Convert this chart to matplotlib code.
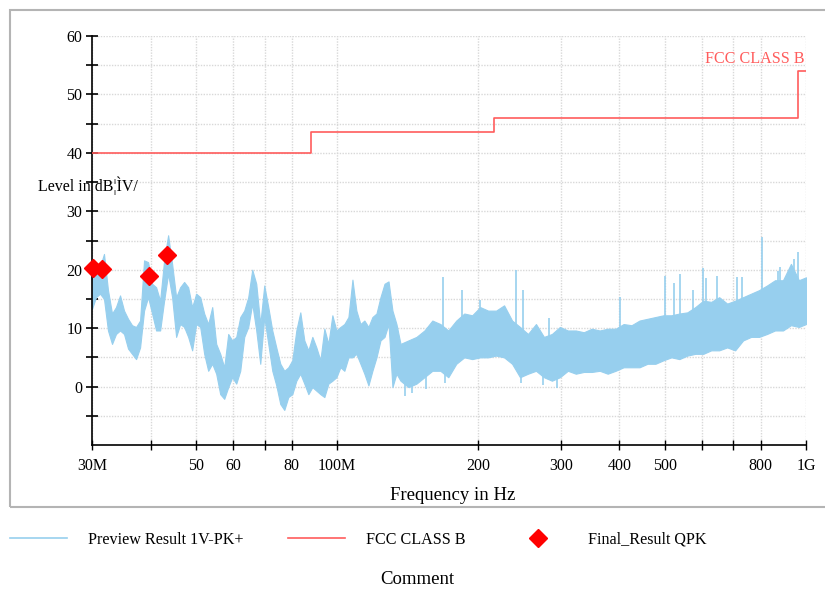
import matplotlib
matplotlib.use("Agg")
import matplotlib.pyplot as plt
from matplotlib.ticker import FixedLocator, NullLocator
from matplotlib.lines import Line2D
from matplotlib.patches import Rectangle

plt.rcParams['font.family'] = ['Liberation Serif', 'DejaVu Serif']

# preview scan (MHz, dBuV) - upper / lower edge of the noisy trace
scan_freq = [30.0, 30.59, 31.20, 31.82, 32.45, 33.10, 33.75, 34.43, 35.11, 35.81,
             36.52, 37.25, 37.99, 38.74, 39.51, 40.30, 41.10, 41.92, 42.75, 43.60,
             44.46, 45.35, 46.25, 47.17, 48.11, 49.06, 50.04, 51.04, 52.05, 53.08,
             54.14, 55.21, 56.31, 57.43, 58.57, 59.73, 60.92, 62.13, 63.36, 64.62,
             65.90, 67.21, 68.55, 69.91, 71.30, 72.72, 74.16, 75.64, 77.14, 78.67,
             80.23, 81.83, 83.45, 85.11, 86.81, 88.53, 90.29, 92.09, 93.91, 95.78,
             97.68, 99.63, 101.6, 103.6, 105.7, 107.8, 109.9, 112.1, 114.3, 116.6,
             118.9, 121.3, 123.7, 126.2, 128.7, 131.2, 133.8,
             136.5, 141.9, 147.6, 153.5, 159.6, 166.0, 172.6, 179.5, 186.7, 194.1,
             201.9, 209.9, 218.3, 227.0, 236.1, 245.5, 255.3, 265.5, 276.1, 287.1,
             298.6, 310.5, 322.9, 335.8, 349.2, 363.1, 377.6, 392.6, 408.3, 424.6,
             441.5, 459.1, 477.4, 496.5, 516.3, 536.9, 558.3, 580.6, 603.8, 627.9,
             652.9, 679.0, 706.1, 734.3, 763.6, 794.1, 825.8, 858.8, 893.1, 928.7,
             965.8, 1000.0]
scan_hi = [21.0, 21.3, 20.5, 22.7, 16.5, 12.5, 13.6, 15.6, 13.0, 11.6,
           10.5, 10.2, 11.3, 21.6, 21.3, 17.6, 17.0, 14.7, 21.6, 25.9,
           21.0, 15.3, 17.0, 17.9, 17.0, 13.6, 15.9, 15.3, 12.5, 10.7,
           13.6, 7.3, 5.6, 3.3, 9.0, 7.9, 8.5, 11.9, 13.0, 15.3,
           20.0, 17.6, 10.7, 17.3, 13.6, 9.6, 6.7, 3.9, 2.7, 3.3,
           4.5, 9.6, 12.7, 7.9, 6.2, 8.5, 6.7, 4.5, 9.9, 7.3,
           12.2, 9.6, 10.2, 10.7, 11.9, 18.3, 13.0, 10.7, 11.3, 10.2,
           11.9, 12.5, 15.3, 17.6, 18.0, 13.0, 10.7,
           7.3, 7.9, 8.5, 9.6, 11.3, 10.7, 9.6, 11.3, 12.5, 12.2,
           13.6, 13.0, 13.0, 13.9, 11.3, 10.2, 9.0, 10.7, 8.5, 9.0,
           10.2, 9.6, 9.6, 9.3, 9.9, 9.6, 9.9, 9.9, 10.7, 10.5,
           11.3, 11.6, 11.9, 12.2, 12.2, 12.5, 12.7, 13.6, 14.7, 14.5,
           15.3, 14.2, 14.7, 15.3, 15.9, 16.5, 17.3, 18.2, 18.2, 21.0,
           18.2, 18.7]
scan_lo = [13.3, 15.3, 15.9, 15.0, 9.6, 7.3, 9.0, 9.6, 9.0, 6.5,
           5.6, 4.7, 6.7, 13.0, 15.3, 12.5, 9.6, 9.6, 14.7, 19.3,
           15.3, 8.5, 10.7, 10.2, 8.5, 6.2, 10.7, 10.2, 5.6, 2.7,
           3.9, 2.2, -1.3, -2.1, -0.1, 1.6, 0.5, 2.7, 8.5, 10.2,
           14.2, 9.6, 3.9, 11.9, 7.3, 2.7, 0.2, -3.0, -4.0, -1.8,
           -1.3, 1.0, 2.2, 0.5, -1.3, -0.1, -0.7, -1.3, -1.8, 0.5,
           1.0, 1.6, 3.3, 2.7, 5.0, 5.0, 5.6, 3.9, 2.2, 0.2,
           2.7, 5.0, 7.9, 8.5, 10.7, -0.1, 2.2,
           1.0, -0.1, 0.5, 1.6, 2.7, 2.7, 1.6, 3.9, 5.0, 4.7,
           5.0, 5.0, 5.3, 5.0, 3.9, 1.6, 2.2, 2.7, 1.6, 1.0,
           1.6, 2.7, 2.2, 2.5, 2.5, 2.7, 2.2, 2.7, 3.3, 3.3,
           3.3, 3.9, 3.9, 4.5, 5.0, 4.7, 5.3, 5.6, 5.6, 6.2,
           6.2, 6.7, 6.2, 7.9, 8.5, 8.5, 9.0, 9.6, 9.6, 10.5,
           10.2, 10.7]

# narrow peaks standing out of the noise floor
spike_freq = [168.2, 184.7, 201.8, 240.8, 249.2, 283.1, 401.4, 500.7, 523.2,
              538.8, 574.0, 603.3, 612.1, 646.2, 712.8, 730.5, 806.1, 871.8,
              880.5, 943.3, 961.7]
spike_top = [18.8, 16.5, 14.9, 19.9, 16.5, 11.8, 15.3, 18.9, 17.8,
             19.3, 16.5, 20.3, 18.5, 19.0, 18.7, 18.7, 25.6, 19.7,
             20.5, 21.9, 23.0]
spike_base = [7.0, 8.0, 9.0, 6.0, 6.0, 5.0, 6.5, 8.0, 8.5,
              8.5, 9.0, 10.0, 10.0, 10.5, 10.5, 11.0, 12.0, 13.0,
              13.0, 14.0, 14.0]

# narrow dips below the noise floor
dip_freq = [139.6, 144.5, 154.7, 169.9, 246.8, 274.9, 294.5]
dip_level = [-1.6, -1.1, -0.4, 0.6, 0.6, 0.3, -0.2]
dip_top = [4.0, 4.0, 5.0, 6.0, 5.0, 5.0, 5.0]

# FCC class B limit
limit_freq = [30, 88, 216, 960, 1000]
limit_level = [40, 43.5, 46, 54, 54]

# final quasi-peak results
qpk_freq = [30.19, 31.5, 39.75, 43.4]
qpk_level = [20.3, 20.1, 19.0, 22.6]

xtick_vals = [30, 40, 50, 60, 70, 80, 100, 200, 300, 400, 500, 600, 700, 800, 1000]
xtick_labels = ['30M', '', '50', '60', '', '80', '100M', '200', '300', '400', '500',
                '', '', '800', '1G']
ytick_vals = [0, 10, 20, 30, 40, 50, 60]

blue = '#97cfee'
red_line = '#ff5c5c'

fig = plt.figure(figsize=(8.25, 5.89), dpi=100)
ax = fig.add_axes([92 / 825, 1 - 445 / 589, 714 / 825, 409 / 589])

ax.fill_between(scan_freq, scan_lo, scan_hi, color=blue, lw=0.8, edgecolor=blue, zorder=2)
ax.vlines(spike_freq, spike_base, spike_top, color=blue, lw=1.2, zorder=2)
ax.vlines(dip_freq, dip_level, dip_top, color=blue, lw=1.2, zorder=2)
ax.step(limit_freq, limit_level, where='post', color=red_line, lw=1.2, zorder=3)
ax.plot(qpk_freq, qpk_level, ls='none', marker='D', ms=9.5, color='#ff0000',
        zorder=4, clip_on=False)

ax.text(995, 56.0, 'FCC CLASS B', color=red_line, fontsize=11.6, ha='right', va='center')

ax.set_xscale('log')
ax.set_xlim(30, 1000)
ax.set_ylim(-10, 60)
ax.xaxis.set_major_locator(FixedLocator(xtick_vals))
ax.set_xticklabels(xtick_labels)
ax.xaxis.set_minor_locator(NullLocator())
ax.yaxis.set_major_locator(FixedLocator(ytick_vals))
ax.yaxis.set_minor_locator(FixedLocator([-5, 5, 15, 25, 35, 45, 55]))

ax.tick_params(axis='y', which='both', direction='inout', length=8, width=1.2,
               labelsize=11.5, pad=3)
ax.tick_params(axis='x', which='both', direction='inout', length=6.5, width=1.0,
               labelsize=11.5, pad=6)
ax.grid(which='both', color='#d8d8d8', ls=(0, (1, 1)), lw=1)
ax.set_axisbelow(True)
for side in ['top', 'right']:
    ax.spines[side].set_visible(False)
for side in ['left', 'bottom']:
    ax.spines[side].set_linewidth(1.2)

fig.text(38 / 825, 1 - 186 / 589, 'Level in dB¦ÌV/', fontsize=11.5, ha='left', va='center')
fig.text(453 / 825, 1 - 495 / 589, 'Frequency in Hz', fontsize=13.5, ha='center', va='center')
fig.text(417 / 825, 1 - 580 / 589, 'Comment', fontsize=13.5, ha='center', va='center')

# outer frame
fig.add_artist(Rectangle((10 / 825, 1 - 507 / 589), 1.0, 497 / 589, transform=fig.transFigure,
                         fill=False, edgecolor='#b4b4b4', lw=1.5))

handles = [Line2D([], [], color=blue, lw=1.2),
           Line2D([], [], color=red_line, lw=1.2),
           Line2D([], [], ls='none', marker='D', ms=9.5, color='#ff0000')]
fig.legend(handles, ['Preview Result 1V-PK+', 'FCC CLASS B', 'Final_Result QPK'],
           loc='center left', bbox_to_anchor=(10 / 825, 1 - 540 / 589), ncol=3,
           frameon=False, fontsize=11.6, handlelength=3.55, handletextpad=1.3,
           columnspacing=2.75, borderpad=0, borderaxespad=0)

fig.savefig('out.png', dpi=100)
